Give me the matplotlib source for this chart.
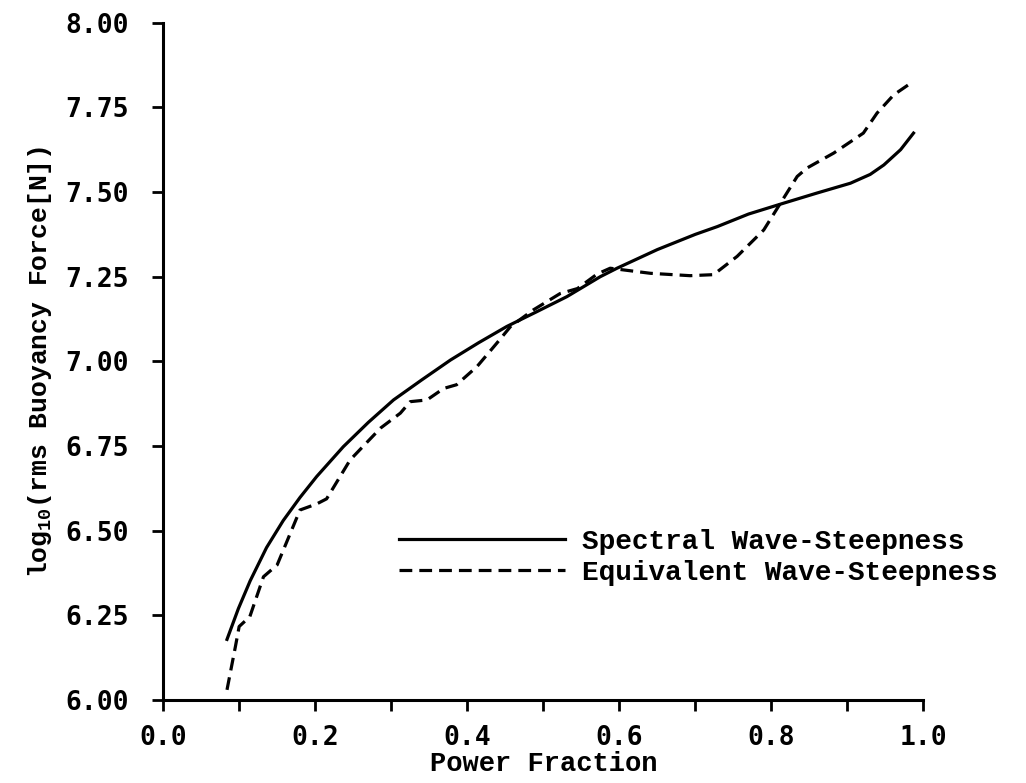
import matplotlib
matplotlib.use('Agg')
import matplotlib.pyplot as plt
from matplotlib.ticker import MultipleLocator, FormatStrFormatter

# Spectral wave-steepness curve
spectral_x = [0.084, 0.099, 0.1145, 0.136, 0.158, 0.180, 0.202, 0.237, 0.270, 0.303,
              0.340, 0.378, 0.415, 0.452, 0.490, 0.531, 0.575, 0.597, 0.650, 0.700,
              0.729, 0.770, 0.816, 0.860, 0.904, 0.930, 0.948, 0.970, 0.987]
spectral_y = [6.179, 6.270, 6.352, 6.450, 6.530, 6.598, 6.660, 6.748, 6.820, 6.886,
              6.945, 7.004, 7.055, 7.103, 7.145, 7.191, 7.250, 7.275, 7.330, 7.375,
              7.398, 7.435, 7.467, 7.497, 7.526, 7.552, 7.580, 7.625, 7.674]

# Equivalent wave-steepness curve
equiv_x = [0.084, 0.095, 0.100, 0.114, 0.132, 0.150, 0.180, 0.202, 0.215, 0.246,
           0.286, 0.312, 0.325, 0.347, 0.369, 0.386, 0.413, 0.439, 0.457, 0.487,
           0.522, 0.545, 0.571, 0.588, 0.641, 0.693, 0.724, 0.755, 0.790, 0.812,
           0.834, 0.847, 0.882, 0.921, 0.939, 0.961, 0.987]
equiv_y = [6.030, 6.157, 6.217, 6.246, 6.364, 6.399, 6.561, 6.579, 6.594, 6.709,
           6.803, 6.847, 6.881, 6.886, 6.920, 6.931, 6.985, 7.054, 7.103, 7.152,
           7.200, 7.215, 7.258, 7.275, 7.260, 7.253, 7.256, 7.310, 7.388, 7.467,
           7.546, 7.571, 7.615, 7.674, 7.733, 7.787, 7.827]

series_labels = ['Spectral Wave-Steepness', 'Equivalent Wave-Steepness']

plt.rcParams['font.family'] = ['Liberation Mono', 'DejaVu Sans Mono']
plt.rcParams['font.weight'] = 'bold'
plt.rcParams['mathtext.default'] = 'regular'

fig = plt.figure(figsize=(10.26, 7.83), dpi=100)
ax = fig.add_axes([0.159, 0.106, 0.741, 0.865])

ax.plot(spectral_x, spectral_y, color='black', lw=2.3, label=series_labels[0])
ax.plot(equiv_x, equiv_y, color='black', lw=2.3, dashes=(4, 2.2), label=series_labels[1])

ax.set_xlim(0, 1.0)
ax.set_ylim(6.0, 8.0)
ax.xaxis.set_major_locator(MultipleLocator(0.2))
ax.xaxis.set_minor_locator(MultipleLocator(0.1))
ax.yaxis.set_major_locator(MultipleLocator(0.25))
ax.xaxis.set_major_formatter(FormatStrFormatter('%.1f'))
ax.yaxis.set_major_formatter(FormatStrFormatter('%.2f'))

for s in ['top', 'right']:
    ax.spines[s].set_visible(False)
for s in ['left', 'bottom']:
    ax.spines[s].set_linewidth(2.2)

ax.tick_params(which='both', direction='out', width=2.0, length=8)
ax.tick_params(axis='y', pad=17)
ax.tick_params(axis='x', which='major', pad=10)
for lbl in ax.get_xticklabels() + ax.get_yticklabels():
    lbl.set_fontfamily('DejaVu Sans Mono')
    lbl.set_fontweight('bold')
    lbl.set_fontsize(19)

ax.set_xlabel('Power Fraction', fontsize=19.5, fontweight='bold', labelpad=0)
ax.set_ylabel(r'log$_{10}$(rms Buoyancy Force[N])', fontsize=19, fontweight='bold', labelpad=8)

ax.legend(loc='upper left', bbox_to_anchor=(0.277, 0.29), frameon=False,
          handlelength=6.0, handletextpad=0.6, labelspacing=0.2,
          prop={'family': 'Liberation Mono', 'weight': 'bold', 'size': 20})

fig.savefig('out.png', dpi=100)
